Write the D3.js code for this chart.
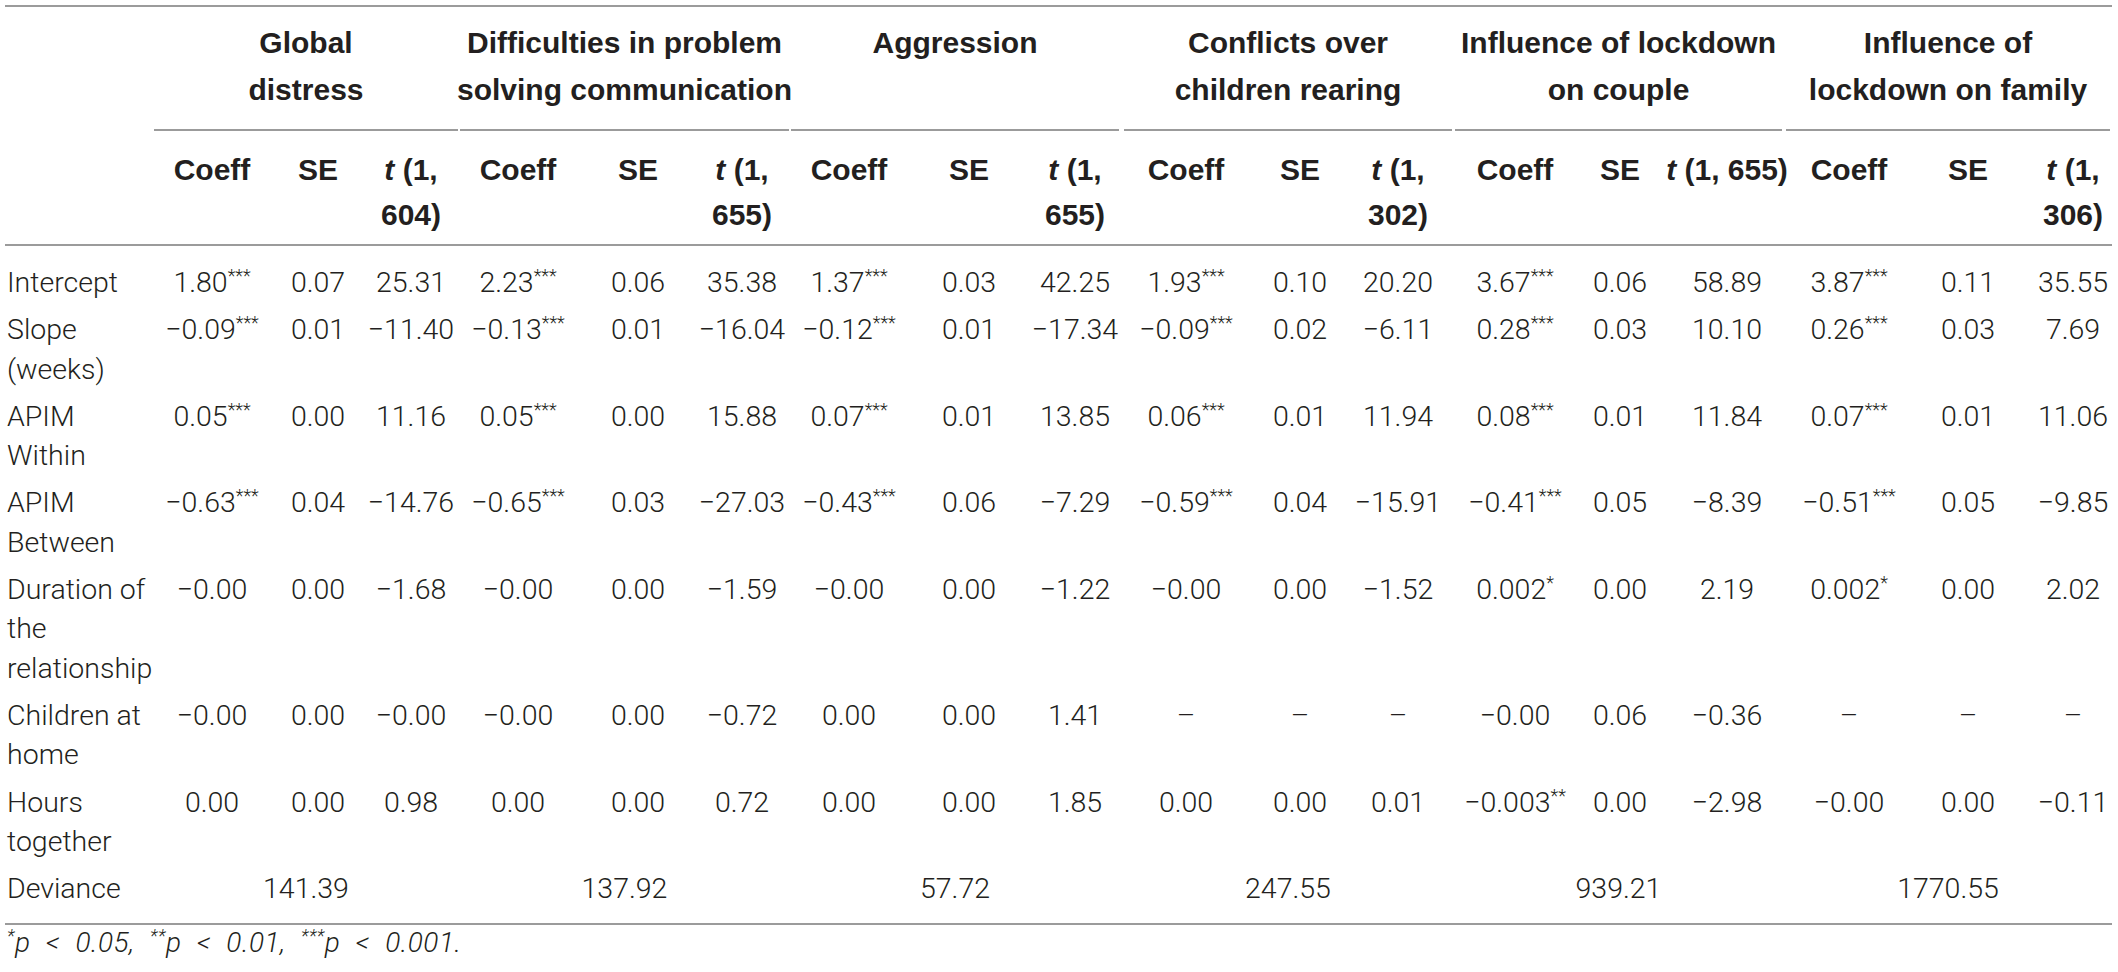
<!DOCTYPE html>
<html>
<head>
<meta charset="utf-8">
<title>Lockdown couple model table</title>
<style>
  body { margin: 0; background: #fff; }
  text { fill: #231f20; }
</style>
</head>
<body>
<svg id="svg"></svg>
<script src="https://d3js.org/d3.v7.min.js"></script>
<script>
const groupTitles = [
  ["Global", "distress"],
  ["Difficulties in problem", "solving communication"],
  ["Aggression"],
  ["Conflicts over", "children rearing"],
  ["Influence of lockdown", "on couple"],
  ["Influence of", "lockdown on family"]
];
const dfLabels = [["604)"], ["655)"], ["655)"], ["302)"], null, ["306)"]]; // second line of "t (1, ..."
const dfInline = ["", "", "", "", "655)", ""];

const rowLabels = [
  ["Intercept"],
  ["Slope", "(weeks)"],
  ["APIM", "Within"],
  ["APIM", "Between"],
  ["Duration of", "the", "relationship"],
  ["Children at", "home"],
  ["Hours", "together"]
];

const intercept   = ["1.80***", "0.07", "25.31", "2.23***", "0.06", "35.38", "1.37***", "0.03", "42.25", "1.93***", "0.10", "20.20", "3.67***", "0.06", "58.89", "3.87***", "0.11", "35.55"];
const slope       = ["−0.09***", "0.01", "−11.40", "−0.13***", "0.01", "−16.04", "−0.12***", "0.01", "−17.34", "−0.09***", "0.02", "−6.11", "0.28***", "0.03", "10.10", "0.26***", "0.03", "7.69"];
const apimWithin  = ["0.05***", "0.00", "11.16", "0.05***", "0.00", "15.88", "0.07***", "0.01", "13.85", "0.06***", "0.01", "11.94", "0.08***", "0.01", "11.84", "0.07***", "0.01", "11.06"];
const apimBetween = ["−0.63***", "0.04", "−14.76", "−0.65***", "0.03", "−27.03", "−0.43***", "0.06", "−7.29", "−0.59***", "0.04", "−15.91", "−0.41***", "0.05", "−8.39", "−0.51***", "0.05", "−9.85"];
const duration    = ["−0.00", "0.00", "−1.68", "−0.00", "0.00", "−1.59", "−0.00", "0.00", "−1.22", "−0.00", "0.00", "−1.52", "0.002*", "0.00", "2.19", "0.002*", "0.00", "2.02"];
const children    = ["−0.00", "0.00", "−0.00", "−0.00", "0.00", "−0.72", "0.00", "0.00", "1.41", "–", "–", "–", "−0.00", "0.06", "−0.36", "–", "–", "–"];
const hours       = ["0.00", "0.00", "0.98", "0.00", "0.00", "0.72", "0.00", "0.00", "1.85", "0.00", "0.00", "0.01", "−0.003**", "0.00", "−2.98", "−0.00", "0.00", "−0.11"];
const deviance    = ["141.39", "137.92", "57.72", "247.55", "939.21", "1770.55"];

const bodyRows = [intercept, slope, apimWithin, apimBetween, duration, children, hours];

// ---- layout ----
const width = 2118, height = 972;
const colCenters = [212, 318, 411, 518, 638, 742, 849, 969, 1075, 1186, 1300, 1398, 1515, 1620, 1727, 1849, 1968, 2073];
const groupSpans = [[154, 458], [460, 789], [791, 1119], [1124, 1452], [1455, 1782], [1786, 2110]];
const left = 7, right = 2112;
const lineH = 39.3, rowPad = 8, bodyTop = 282;

const bodyFont = "'Roboto', 'Liberation Sans', sans-serif";
const headFont = "'Liberation Sans', Arial, sans-serif";
const bodySize = 28.5, headSize = 30, starSize = 18;

const svg = d3.select("#svg").attr("width", width).attr("height", height);

const x = d3.scaleOrdinal().domain(d3.range(colCenters.length)).range(colCenters);
const gx = d3.scaleOrdinal().domain(d3.range(groupSpans.length)).range(groupSpans);

// row top y from cumulative line counts
const lineCounts = rowLabels.map(d => d.length).concat([1]);
const startLine = [0].concat(Array.from(d3.cumsum(lineCounts)).slice(0, -1));
const y = d3.scaleLinear().domain([0, 1]).range([bodyTop, bodyTop + lineH]);
const rowY = i => y(startLine[i]) + i * rowPad;

// split a value into number and significance stars
function splitStars(s) {
  const m = s.match(/^(.*?)(\*+)?$/);
  return [m[1], m[2] || ""];
}

function valueText(g, s, cx, cy) {
  const [num, stars] = splitStars(s);
  const t = g.append("text")
    .attr("x", cx).attr("y", cy).attr("dy", "0.35em")
    .attr("text-anchor", "middle")
    .style("font-family", bodyFont).style("font-weight", 300)
    .style("font-size", bodySize + "px");
  t.append("tspan").text(num);
  if (stars) t.append("tspan").attr("dy", -10).style("font-size", starSize + "px").text(stars);
}

// ---- rules ----
const rules = svg.append("g").attr("stroke", "#9b9b9b").attr("stroke-width", 2);
[6, 245, 924].forEach(yy => rules.append("line").attr("x1", left - 2).attr("x2", right).attr("y1", yy).attr("y2", yy));
groupSpans.forEach((d, i) => rules.append("line")
  .attr("x1", gx(i)[0]).attr("x2", gx(i)[1]).attr("y1", 130).attr("y2", 130));

// ---- group headers ----
const head = svg.append("g")
  .style("font-family", headFont).style("font-weight", "bold").style("font-size", headSize + "px");

groupTitles.forEach((lines, i) => {
  const cx = (gx(i)[0] + gx(i)[1]) / 2;
  lines.forEach((l, k) => head.append("text")
    .attr("x", cx).attr("y", 42 + k * 47).attr("dy", "0.35em")
    .attr("text-anchor", "middle").text(l));
});

// ---- sub headers ----
groupTitles.forEach((_, i) => {
  const base = i * 3;
  head.append("text").attr("x", x(base)).attr("y", 169).attr("dy", "0.35em")
    .attr("text-anchor", "middle").text("Coeff");
  head.append("text").attr("x", x(base + 1)).attr("y", 169).attr("dy", "0.35em")
    .attr("text-anchor", "middle").text("SE");
  const tt = head.append("text").attr("x", x(base + 2)).attr("y", 169).attr("dy", "0.35em")
    .attr("text-anchor", "middle");
  tt.append("tspan").style("font-style", "italic").text("t");
  tt.append("tspan").text(" (1," + (dfInline[i] ? " " + dfInline[i] : ""));
  if (dfLabels[i]) {
    head.append("text").attr("x", x(base + 2)).attr("y", 214).attr("dy", "0.35em")
      .attr("text-anchor", "middle").text(dfLabels[i][0]);
  }
});

// ---- body ----
const body = svg.append("g");

rowLabels.concat([["Deviance"]]).forEach((lines, i) => {
  lines.forEach((l, k) => body.append("text")
    .attr("x", left).attr("y", rowY(i) + k * lineH).attr("dy", "0.35em")
    .style("font-family", bodyFont).style("font-weight", 300)
    .style("font-size", bodySize + "px").text(l));
});

bodyRows.forEach((vals, i) => {
  vals.forEach((v, j) => valueText(body, v, x(j), rowY(i)));
});

deviance.forEach((v, i) => {
  valueText(body, v, (gx(i)[0] + gx(i)[1]) / 2, rowY(bodyRows.length));
});

// ---- footnote ----
const foot = svg.append("text")
  .attr("x", left).attr("y", 952).attr("dy", "0.35em")
  .style("font-family", bodyFont).style("font-weight", 300).style("font-style", "italic")
  .style("font-size", "28px").style("letter-spacing", "0.5px").style("word-spacing", "8px");
[["*", "p < 0.05, "], ["**", "p < 0.01, "], ["***", "p < 0.001."]].forEach(([s, t]) => {
  foot.append("tspan").attr("dy", -10).style("font-size", starSize + "px").text(s);
  foot.append("tspan").attr("dy", 10).text(t);
});
</script>
</body>
</html>
